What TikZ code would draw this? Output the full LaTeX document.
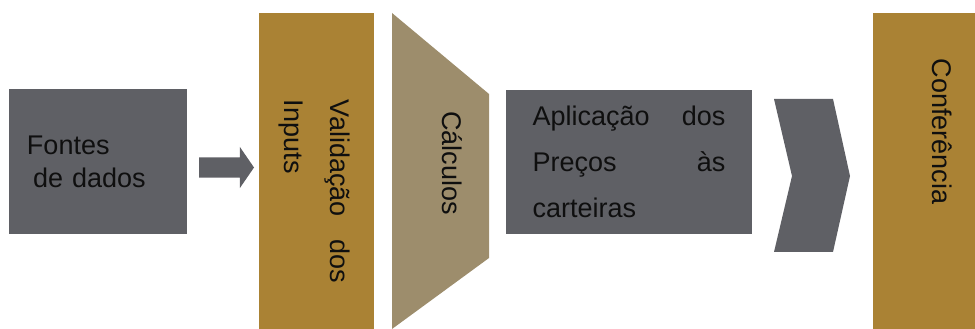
\documentclass[tikz,border=0pt]{standalone}
\usepackage{fontspec}
\setmainfont{Liberation Sans}
\usepackage{tikz}
\usetikzlibrary{shapes.arrows, positioning}
\definecolor{stepgray}{RGB}{95, 96, 101}
\definecolor{checkgold}{RGB}{170, 130, 52}
\definecolor{calctan}{RGB}{157, 141, 108}
\definecolor{labeltext}{RGB}{15, 15, 15}

\begin{document}
\begin{tikzpicture}[
    x=10pt, y=10pt,
    stage/.style={fill=stepgray, inner sep=0pt, text=labeltext, align=left},
    pillar/.style={fill=checkgold, inner sep=0pt, minimum width=115pt, minimum height=316pt},
    vlabel/.style={rotate=-90, inner sep=0pt, text=labeltext, font=\fontsize{27}{46}\selectfont},
    flow/.style={single arrow, fill=stepgray, inner xsep=0pt, inner ysep=10pt, minimum height=55pt, single arrow head extend=10.5pt, single arrow tip angle=111}
]
    \useasboundingbox (0,0) rectangle (97.5,32.9);

    % Sources
    \node[stage, minimum width=178pt, minimum height=145pt, text width=142pt, font=\fontsize{27}{33}\selectfont] (fontes) at (9.8,16.75) {Fontes\\\hspace*{6pt}de dados};
    \node[flow] (feed) at (22.3,16.15) {};

    % Validation
    \node[pillar] (valid) at (31.65,15.8) {};
    \node[vlabel, text width=183pt, align=left] (validtxt) at (31.4,13.75) {\makebox[183pt]{Validação\hfill dos}\\Inputs};

    % Calculations
    \fill[calctan] (39.2,31.6) -- (48.9,23.5) -- (48.9,7.1) -- (39.2,0) -- cycle;
    \node[vlabel] (calctxt) at (45.2,16.6) {Cálculos};

    % Prices
    \node[stage, minimum width=246pt, minimum height=144pt, text width=193pt, font=\fontsize{27}{46}\selectfont] (aplic) at (62.9,16.7) {\makebox[193pt]{Aplicação\hfill dos}\\\makebox[193pt]{Preços\hfill às}\\carteiras};
    \fill[stepgray] (77.4,23.0) -- (83.3,23.0) -- (85.0,15.3) -- (83.3,7.7) -- (77.4,7.7) -- (79.2,15.3) -- cycle;

    % Check
    \node[pillar, minimum width=102pt, anchor=south west] (conf) at (87.3,0) {};
    \node[vlabel] (conftxt) at (94.2,19.75) {Conferência};

\end{tikzpicture}
\end{document}
